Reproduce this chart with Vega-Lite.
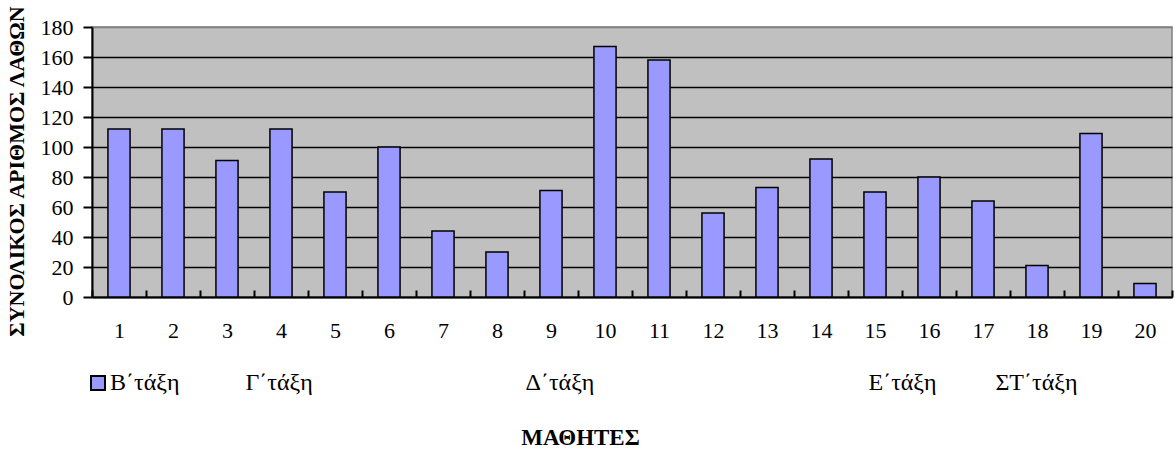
{
  "$schema": "https://vega.github.io/schema/vega-lite/v6.json",
  "width": 1080,
  "height": 270,
  "autosize": "none",
  "padding": {"left": 92, "top": 27, "right": 4, "bottom": 155},
  "background": "white",
  "config": {
    "view": {"fill": "#C0C0C0", "stroke": "#808080", "strokeWidth": 1.5},
    "font": "Liberation Serif, DejaVu Serif, serif"
  },
  "data": {
    "values": [
      {"student": 1, "errors": 112},
      {"student": 2, "errors": 112},
      {"student": 3, "errors": 91},
      {"student": 4, "errors": 112},
      {"student": 5, "errors": 70},
      {"student": 6, "errors": 100},
      {"student": 7, "errors": 44},
      {"student": 8, "errors": 30},
      {"student": 9, "errors": 71},
      {"student": 10, "errors": 167},
      {"student": 11, "errors": 158},
      {"student": 12, "errors": 56},
      {"student": 13, "errors": 73},
      {"student": 14, "errors": 92},
      {"student": 15, "errors": 70},
      {"student": 16, "errors": 80},
      {"student": 17, "errors": 64},
      {"student": 18, "errors": 21},
      {"student": 19, "errors": 109},
      {"student": 20, "errors": 9}
    ]
  },
  "layer": [
    {
      "mark": {"type": "bar", "stroke": "black", "strokeWidth": 1.5, "width": {"band": 0.41}},
      "encoding": {
        "x": {
          "field": "student",
          "type": "ordinal",
          "scale": {"paddingInner": 0, "paddingOuter": 0},
          "axis": {
            "title": "ΜΑΘΗΤΕΣ",
            "labelAngle": 0,
            "labelFontSize": 22,
            "labelColor": "black",
            "labelPadding": 30,
            "tickBand": "extent",
            "tickSize": -7,
            "tickColor": "black",
            "tickWidth": 2,
            "domainColor": "black",
            "domainWidth": 2,
            "grid": false,
            "titleFontSize": 23,
            "titleFontWeight": "bold",
            "titleColor": "black",
            "titleX": 488,
            "titleY": 147,
            "titleBaseline": "alphabetic",
            "titleAlign": "center"
          }
        },
        "y": {
          "field": "errors",
          "type": "quantitative",
          "scale": {"domain": [0, 180], "nice": false},
          "axis": {
            "title": "ΣΥΝΟΛΙΚΟΣ ΑΡΙΘΜΟΣ ΛΑΘΩΝ",
            "values": [0, 20, 40, 60, 80, 100, 120, 140, 160, 180],
            "labelFontSize": 22,
            "labelColor": "black",
            "labelPadding": 10,
            "tickSize": 9,
            "tickWidth": 2,
            "tickColor": "black",
            "domainColor": "black",
            "domainWidth": 2,
            "grid": true,
            "gridColor": {"condition": {"test": "datum.value == 180", "value": "#808080"}, "value": "black"},
            "gridWidth": 1.5,
            "gridOpacity": 1,
            "titleFontSize": 22,
            "titleFontWeight": "bold",
            "titleColor": "black",
            "titleX": -69,
            "titleY": 144,
            "titleBaseline": "alphabetic",
            "titleAlign": "center"
          }
        },
        "color": {
          "datum": "Β΄τάξη",
          "scale": {"range": ["#9999FF"]},
          "legend": {
            "orient": "none",
            "legendX": -6,
            "legendY": 344,
            "title": null,
            "padding": 0,
            "symbolType": "square",
            "symbolSize": 196,
            "symbolStrokeColor": "black",
            "symbolStrokeWidth": 2,
            "symbolOpacity": 1,
            "labelFontSize": 24,
            "labelColor": "black",
            "labelOffset": 0
          }
        }
      }
    },
    {
      "mark": {"type": "rule", "opacity": 0},
      "encoding": {
        "x": {
          "field": "student",
          "type": "quantitative",
          "scale": {"domain": [0, 20], "nice": false, "zero": false},
          "axis": {
            "orient": "bottom",
            "values": [2.833, 8.019, 14.37, 16.72],
            "labelExpr": "datum.value < 5 ? 'Γ΄τάξη' : datum.value < 10 ? 'Δ΄τάξη' : datum.value < 16 ? 'Ε΄τάξη' : 'ΣΤ΄τάξη'",
            "ticks": false,
            "domain": false,
            "grid": false,
            "title": null,
            "labelFontSize": 24,
            "labelColor": "black",
            "labelPadding": 92,
            "labelBaseline": "alphabetic",
            "labelAlign": "left",
            "labelFlush": false,
            "labelOverlap": false
          }
        }
      }
    }
  ],
  "resolve": {"scale": {"x": "independent"}}
}
